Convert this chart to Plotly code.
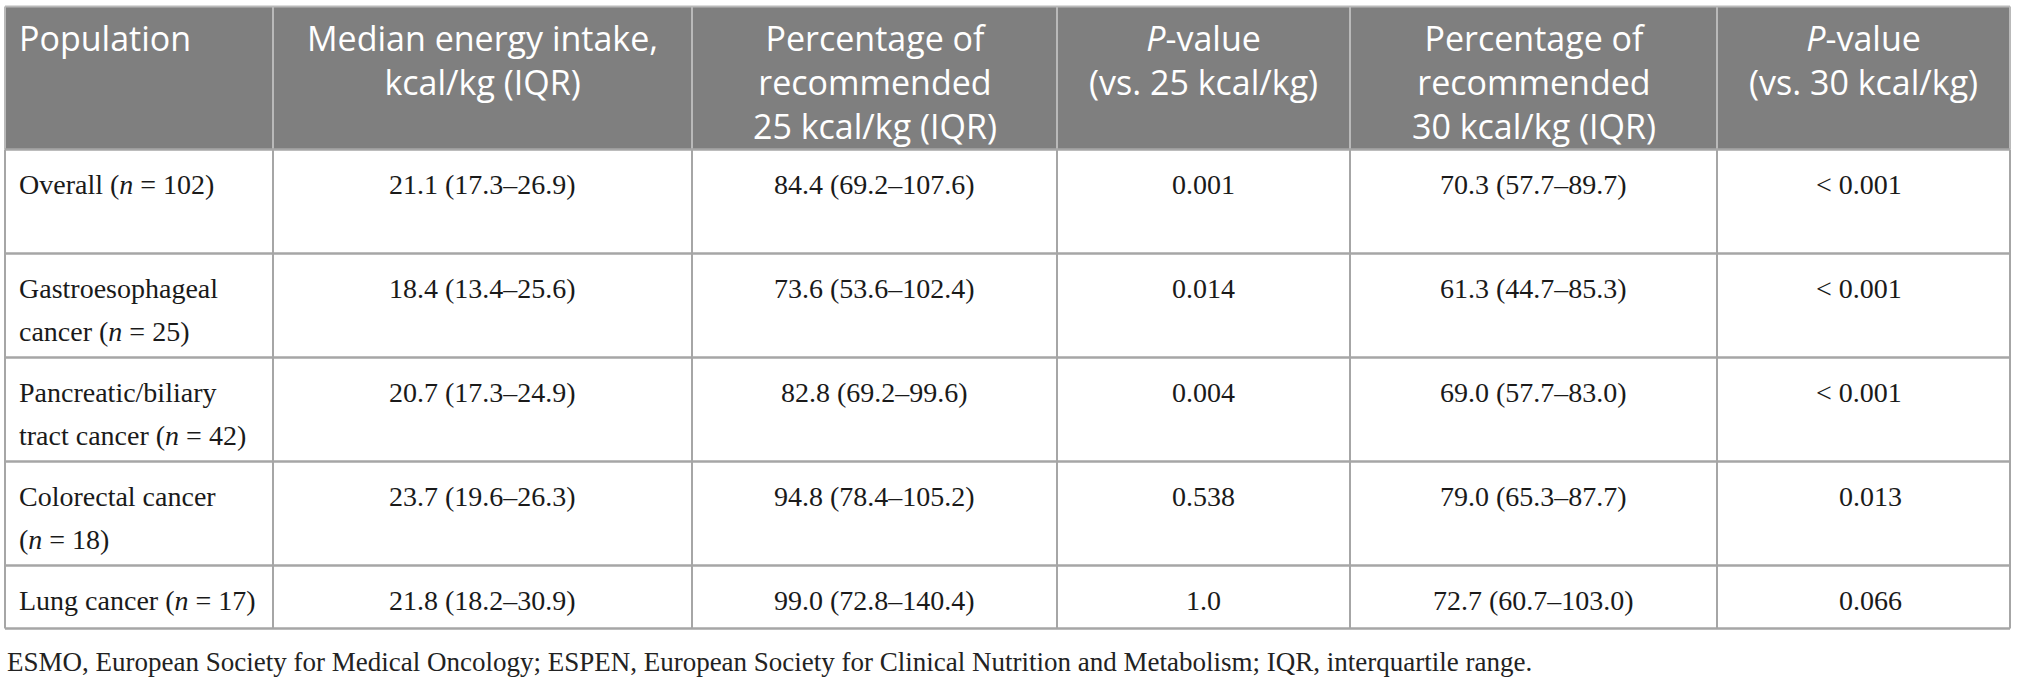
import plotly.graph_objects as go

# column headers (<br> marks the line breaks of the printed table)
headers = [
    "Population",
    "Median energy intake,<br>kcal/kg (IQR)",
    "Percentage of<br>recommended<br>25 kcal/kg (IQR)",
    "<i>P</i>-value<br>(vs. 25 kcal/kg)",
    "Percentage of<br>recommended<br>30 kcal/kg (IQR)",
    "<i>P</i>-value<br>(vs. 30 kcal/kg)",
]

populations = [
    "Overall (<i>n</i> = 102)",
    "Gastroesophageal<br>cancer (<i>n</i> = 25)",
    "Pancreatic/biliary<br>tract cancer (<i>n</i> = 42)",
    "Colorectal cancer<br>(<i>n</i> = 18)",
    "Lung cancer (<i>n</i> = 17)",
]

intake_median = [21.1, 18.4, 20.7, 23.7, 21.8]
intake_q1 = [17.3, 13.4, 17.3, 19.6, 18.2]
intake_q3 = [26.9, 25.6, 24.9, 26.3, 30.9]

pct25_median = [84.4, 73.6, 82.8, 94.8, 99.0]
pct25_q1 = [69.2, 53.6, 69.2, 78.4, 72.8]
pct25_q3 = [107.6, 102.4, 99.6, 105.2, 140.4]
p_vs_25 = ["0.001", "0.014", "0.004", "0.538", "1.0"]

pct30_median = [70.3, 61.3, 69.0, 79.0, 72.7]
pct30_q1 = [57.7, 44.7, 57.7, 65.3, 60.7]
pct30_q3 = [89.7, 85.3, 83.0, 87.7, 103.0]
p_vs_30 = ["< 0.001", "< 0.001", "< 0.001", "0.013", "0.066"]

footnote = (
    "ESMO, European Society for Medical Oncology; ESPEN, European Society for "
    "Clinical Nutrition and Metabolism; IQR, interquartile range."
)


def iqr_text(med, lo, hi):
    return [f"{m:.1f} ({a:.1f}\u2013{b:.1f})" for m, a, b in zip(med, lo, hi)]


columns = [
    populations,
    iqr_text(intake_median, intake_q1, intake_q3),
    iqr_text(pct25_median, pct25_q1, pct25_q3),
    p_vs_25,
    iqr_text(pct30_median, pct30_q1, pct30_q3),
    p_vs_30,
]

# ---- layout (pixels of the 2018x683 page) ----
W, H = 2018, 683
table_left = 5
col_widths = [268, 419, 365, 293, 367, 293]
header_top = 6.5
header_height = 143
row_heights = [104, 104, 104, 104, 63]
header_first_line = 31.5
body_first_line = 35
body_line_gap = 42.5
cell_pad = 12
last_col_right_pad = 106  # p-values in the last column are aligned on their right edge

header_size = 34
header_line_gap = 1.3 * header_size  # plotly's own line spacing for <br>
header_font = dict(family="Open Sans", size=header_size, color="white")
cell_font = dict(family="Liberation Serif", size=28, color="#1a1a1a")
header_fill = "#7f7f7f"
header_rule = "#b9b9b9"
grid_color = "#a6a6a6"

col_edges = [table_left]
for w in col_widths:
    col_edges.append(col_edges[-1] + w)
header_bottom = header_top + header_height
row_edges = [header_bottom]
for h in row_heights:
    row_edges.append(row_edges[-1] + h)
table_bottom = row_edges[-1]

fig = go.Figure()

# header background
fig.add_shape(
    type="rect",
    x0=col_edges[0],
    x1=col_edges[-1],
    y0=header_top,
    y1=header_bottom,
    fillcolor=header_fill,
    line_width=0,
    layer="below",
)
fig.add_shape(
    type="line", x0=col_edges[0], x1=col_edges[-1], y0=header_top, y1=header_top,
    line=dict(color=header_rule, width=2),
)

# vertical rules
for x in col_edges:
    fig.add_shape(
        type="line", x0=x, x1=x, y0=header_top, y1=header_bottom,
        line=dict(color=header_rule, width=2),
    )
    fig.add_shape(
        type="line", x0=x, x1=x, y0=header_bottom, y1=table_bottom,
        line=dict(color=grid_color, width=2),
    )

# horizontal rules
for y in row_edges:
    fig.add_shape(
        type="line", x0=col_edges[0], x1=col_edges[-1], y0=y, y1=y,
        line=dict(color=grid_color, width=2.5),
    )


def cell_x(j):
    if j == 0:
        return col_edges[0] + cell_pad, "left"
    if j == len(col_widths) - 1:
        return col_edges[j + 1] - last_col_right_pad, "right"
    return (col_edges[j] + col_edges[j + 1]) / 2, "center"


# header text: one block per cell, lines centred on each other
for j, head in enumerate(headers):
    if j == 0:
        x, anchor = col_edges[0] + cell_pad, "left"
    else:
        x, anchor = (col_edges[j] + col_edges[j + 1]) / 2, "center"
    n_lines = head.count("<br>") + 1
    fig.add_annotation(
        text=head,
        x=x,
        y=header_top + header_first_line + (n_lines - 1) * header_line_gap / 2,
        xanchor=anchor,
        yanchor="middle",
        align=anchor,
        showarrow=False,
        font=header_font,
    )

# body text
for j, col in enumerate(columns):
    x, anchor = cell_x(j)
    for i, value in enumerate(col):
        for k, line in enumerate(value.split("<br>")):
            fig.add_annotation(
                text=line,
                x=x,
                y=row_edges[i] + body_first_line + k * body_line_gap,
                xanchor=anchor,
                yanchor="middle",
                showarrow=False,
                font=cell_font,
            )

fig.add_annotation(
    text=footnote,
    x=table_left,
    y=662,
    xanchor="left",
    yanchor="middle",
    showarrow=False,
    font=dict(family="Liberation Serif", size=27, color="#222222"),
)

fig.update_xaxes(range=[0, W], visible=False, fixedrange=True)
fig.update_yaxes(range=[H, 0], visible=False, fixedrange=True)
fig.update_layout(
    width=W,
    height=H,
    margin=dict(l=0, r=0, t=0, b=0),
    paper_bgcolor="white",
    plot_bgcolor="white",
    showlegend=False,
)

fig.write_html(
    "out.html",
    config={"displayModeBar": False},
    post_script="document.body.style.margin='0';",
)
